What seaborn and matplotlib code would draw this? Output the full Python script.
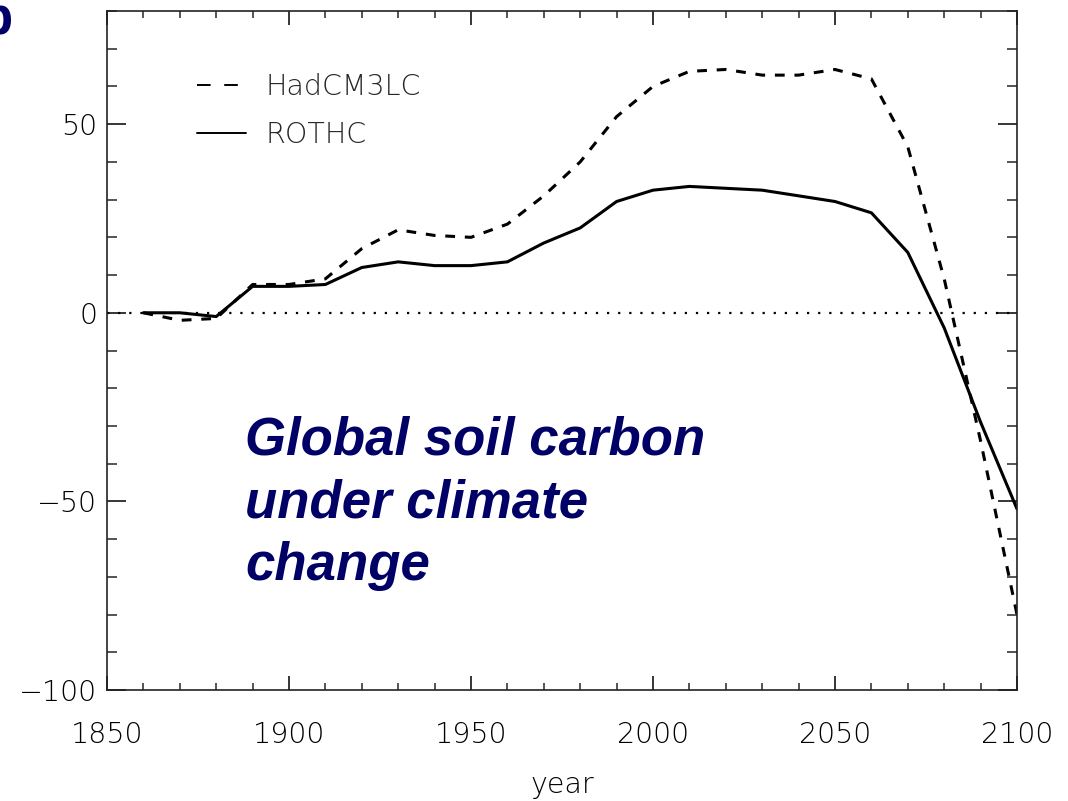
import numpy as np
import pandas as pd
import matplotlib
matplotlib.use("Agg")
import matplotlib.pyplot as plt
from matplotlib.lines import Line2D
from matplotlib.ticker import MultipleLocator
import seaborn as sns

# Decadal change in global soil carbon (GtC) relative to 1860
years = list(range(1860, 2101, 10))
hadcm3lc = [0, -2, -1.5, 7.5, 7.5, 9, 17, 22, 20.5, 20, 23.5, 31, 40, 52, 60,
            64, 64.5, 63, 63, 64.5, 62, 44, 9, -34, -80]
rothc = [0, 0, -1, 7, 7, 7.5, 12, 13.5, 12.5, 12.5, 13.5, 18.5, 22.5, 29.5, 32.5,
         33.5, 33, 32.5, 31, 29.5, 26.5, 16, -4, -29, -52]
models = ["HadCM3LC", "ROTHC"]
x_ticks = [1850, 1900, 1950, 2000, 2050, 2100]
y_ticks = [-100, -50, 0, 50]
title_lines = ["Global soil carbon", "under climate", "change"]
navy = "#000066"

df = pd.DataFrame({
    "year": years * 2,
    "carbon": hadcm3lc + rothc,
    "model": [models[0]] * len(years) + [models[1]] * len(years),
})

sns.set_theme(style="ticks")
plt.rcParams["font.family"] = ["DejaVu Sans"]

fig = plt.figure(figsize=(10.68, 8.01), dpi=100)
ax = fig.add_axes([107 / 1068, 1 - 690 / 801, 910 / 1068, 679 / 801])

sns.lineplot(data=df, x="year", y="carbon", hue="model", style="model",
             palette={models[0]: "black", models[1]: "black"},
             dashes={models[0]: (3.2, 3.2), models[1]: ""},
             linewidth=2.2, ax=ax, legend=False)

ax.axhline(0, color="black", linestyle=(0, (1, 4)), linewidth=1.6, zorder=1)

ax.set_xlim(1850, 2100)
ax.set_ylim(-100, 80)
ax.set_xticks(x_ticks)
ax.set_yticks(y_ticks)
ax.xaxis.set_minor_locator(MultipleLocator(10))
ax.yaxis.set_minor_locator(MultipleLocator(10))

tick_font = dict(family="DejaVu Sans", weight="light", size=20.5, color="black")
ax.set_xticklabels([str(v) for v in x_ticks], **tick_font)
ax.set_yticklabels(["\u2212100", "\u221250", "0", "50"], **tick_font)
ax.tick_params(axis="x", which="major", direction="in", length=10, width=1.1,
               top=True, bottom=True, pad=22, colors="black")
ax.tick_params(axis="x", which="minor", direction="in", length=5, width=1.1,
               top=True, bottom=True)
ax.tick_params(axis="y", which="major", direction="in", length=14, width=1.1,
               left=True, right=True, pad=7, colors="black")
ax.tick_params(axis="y", which="minor", direction="in", length=7.5, width=1.1,
               left=True, right=True)
for s in ax.spines.values():
    s.set_visible(True)
    s.set_linewidth(1.2)
    s.set_color("#222222")

ax.set_xlabel("year", labelpad=16, **tick_font)
ax.set_ylabel("")

handles = [
    Line2D([], [], color="black", linewidth=1.4, linestyle=(0, (7, 7))),
    Line2D([], [], color="black", linewidth=1.4, linestyle="-"),
]
ax.legend(handles, models, loc="upper left", bbox_to_anchor=(0.071, 0.947),
          frameon=False, handlelength=1.7, handletextpad=0.7,
          labelspacing=0.72,
          prop=dict(family="DejaVu Sans", weight="light", size=20.5))

# Multi-line text aligned on the baseline of its last line
ax.text(0.1516, (690 - 580) / 679, "\n".join(title_lines), transform=ax.transAxes,
        ha="left", va="baseline", color=navy, fontsize=38,
        family="Liberation Sans", weight="bold", style="italic", linespacing=1.33)

fig.text(13 / 1068, 1 - 34 / 801, "b", ha="right", va="baseline", color=navy,
         fontsize=38, family="Liberation Sans", weight="bold")

fig.savefig("out.png", dpi=100, facecolor="white")
